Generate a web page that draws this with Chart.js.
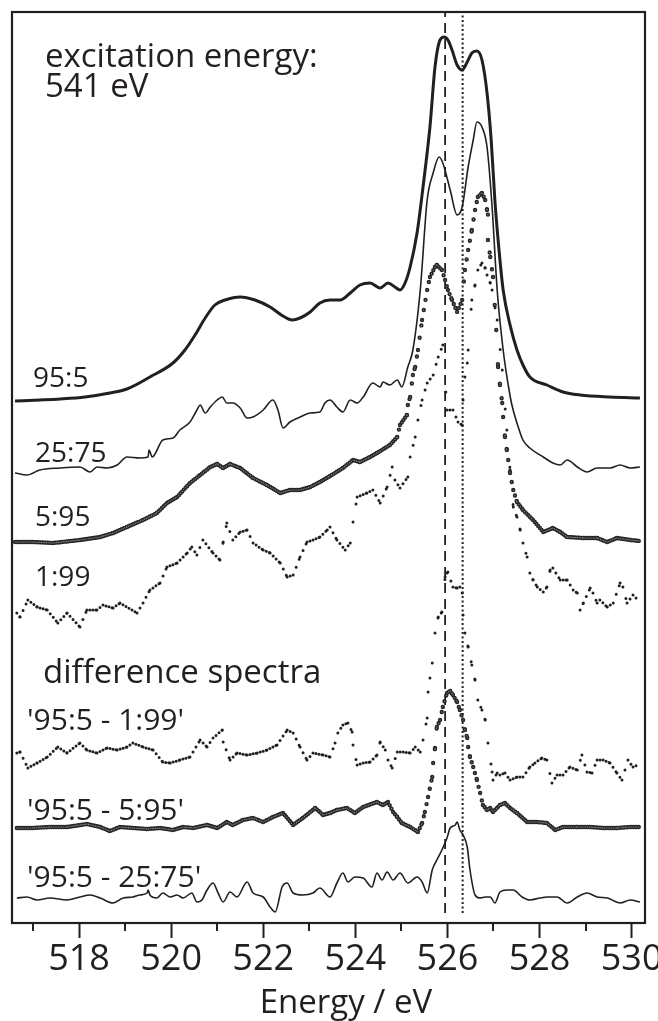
<!DOCTYPE html>
<html>
<head>
<meta charset="utf-8">
<script src="https://cdn.jsdelivr.net/npm/chart.js@4"></script>
<style>
  html, body { margin: 0; padding: 0; background: #fff; }
  #wrap { width: 658px; height: 1021px; position: relative; }
</style>
</head>
<body>
<div id="wrap"><canvas id="spectra"></canvas></div>
<script>
// O K-edge emission spectra, stacked with vertical offsets (arb. units)

// sample 95:5
const e955 = [516.61,517.15,517.59,518.13,518.67,519.04,519.54,520.04,520.30,520.52,
  520.74,520.95,521.17,521.50,521.82,522.15,522.43,522.63,522.80,523.02,
  523.23,523.45,523.67,523.89,524.10,524.32,524.54,524.71,524.86,524.97,
  525.08,525.19,525.34,525.47,525.62,525.73,525.84,525.93,526.01,526.10,
  526.21,526.32,526.43,526.53,526.64,526.75,526.86,526.95,527.03,527.12,
  527.21,527.36,527.51,527.64,527.79,528.16,528.51,528.88,529.53,530.18];
const y955 = [52.2,52.3,52.4,52.6,53.0,53.4,54.6,56.0,57.3,58.8,
  60.5,61.8,62.3,62.6,62.3,61.6,60.7,60.3,60.5,61.1,
  62.0,62.3,62.3,63.0,63.8,64.0,63.5,64.0,63.6,63.3,
  64.0,65.6,69.0,73.6,79.6,85.6,88.3,88.6,88.3,87.3,
  85.8,85.3,86.1,87.0,87.2,86.3,83.0,78.3,72.3,67.3,
  63.3,59.8,57.3,55.8,54.6,53.8,53.1,52.8,52.6,52.5];

// sample 25:75
const e2575 = [516.61,516.87,517.15,517.59,518.02,518.24,518.39,518.61,518.83,519.04,
  519.32,519.50,519.52,519.59,519.82,520.04,520.19,520.41,520.56,520.63,
  520.74,520.85,521.00,521.11,521.21,521.34,521.50,521.65,521.78,522.00,
  522.21,522.32,522.43,522.58,522.80,523.02,523.23,523.34,523.45,523.60,
  523.73,523.89,524.04,524.17,524.38,524.54,524.60,524.75,524.91,525.01,
  525.14,525.25,525.41,525.56,525.69,525.82,525.90,526.06,526.21,526.32,
  526.45,526.56,526.64,526.75,526.86,526.97,527.08,527.21,527.32,527.40,
  527.51,527.64,527.79,528.08,528.29,528.45,528.60,528.82,529.03,529.25,
  529.53,529.75,529.97,530.18];
const y2575 = [45.0,44.8,45.3,45.5,45.6,45.1,45.6,45.5,45.8,46.6,
  46.5,46.6,47.3,46.6,48.3,48.5,49.3,50.1,51.3,51.8,
  51.0,51.6,52.3,52.6,52.0,52.0,51.5,50.5,50.6,51.3,
  52.3,51.3,49.5,50.1,50.6,51.0,51.1,52.0,52.3,51.6,
  51.1,52.3,52.0,52.6,54.0,53.6,54.1,53.8,54.3,53.6,
  55.6,57.3,63.3,72.3,75.0,76.6,76.0,73.3,70.8,71.6,
  75.6,78.3,80.1,79.6,77.6,71.6,63.3,57.3,53.8,51.8,
  50.0,48.3,47.5,46.6,46.0,45.8,46.3,45.6,45.1,45.5,
  45.5,45.8,45.5,45.6];

// sample 5:95
const e595 = [516.61,517.00,517.44,518.02,518.46,518.74,519.04,519.39,519.69,519.91,
  520.13,520.41,520.63,520.85,521.00,521.13,521.28,521.50,521.78,522.08,
  522.37,522.58,522.80,523.02,523.23,523.45,523.73,523.95,524.10,524.32,
  524.47,524.75,524.91,524.97,525.12,525.14,525.19,525.25,525.30,525.36,
  525.45,525.56,525.62,525.73,525.77,525.88,525.95,526.01,526.10,526.21,
  526.32,526.38,526.45,526.53,526.60,526.66,526.75,526.82,526.86,526.88,
  526.93,526.99,527.06,527.10,527.14,527.19,527.21,527.25,527.29,527.32,
  527.36,527.43,527.51,527.64,527.86,528.08,528.29,528.45,528.60,528.95,
  529.25,529.47,529.68,529.97,530.18];
const y595 = [38.1,38.1,38.0,38.3,38.6,39.0,39.6,40.3,41.0,42.0,
  42.6,44.0,44.8,45.6,45.9,45.5,45.9,45.5,44.5,43.8,
  43.0,43.3,43.3,43.6,44.1,44.7,45.5,46.3,46.1,46.6,
  47.0,47.8,48.6,49.8,50.8,51.8,52.6,54.8,55.6,57.3,
  60.3,63.3,64.6,65.6,65.8,65.3,64.3,63.3,62.3,61.1,
  62.3,65.3,67.3,69.3,71.3,72.6,73.0,72.3,71.3,68.3,
  66.6,64.6,59.3,55.6,53.8,52.0,50.6,48.6,47.3,46.3,
  45.0,43.3,42.1,41.3,40.3,39.1,39.5,39.1,38.6,38.5,
  38.5,38.1,38.5,38.3,38.2];

// sample 1:99
const e199 = [516.65,516.72,516.89,517.09,517.31,517.54,517.74,518.02,518.17,518.39,
  518.52,518.74,518.89,519.26,519.39,519.54,519.76,519.91,520.13,520.35,
  520.45,520.56,520.69,520.91,521.06,521.13,521.21,521.34,521.50,521.65,
  521.78,522.00,522.15,522.37,522.52,522.65,522.80,522.95,523.08,523.23,
  523.39,523.45,523.60,523.78,523.89,523.95,524.04,524.25,524.38,524.54,
  524.69,524.80,524.86,524.97,525.14,525.19,525.30,525.36,525.45,525.56,
  525.69,525.80,525.90,525.99,526.12,526.23,526.32,526.34,526.38,526.43,
  526.45,526.53,526.60,526.66,526.75,526.82,526.86,526.93,526.97,527.08,
  527.19,527.29,527.36,527.43,527.51,527.58,527.64,527.73,527.79,527.86,
  527.95,528.08,528.16,528.23,528.29,528.45,528.60,528.73,528.82,528.88,
  528.95,529.10,529.16,529.25,529.31,529.47,529.60,529.75,529.81,529.90,
  530.03,530.14];
const y199 = [31.0,30.6,32.3,31.6,31.3,30.0,31.0,29.6,31.3,31.3,
  31.8,31.5,32.0,31.0,32.0,33.3,34.0,35.6,36.0,37.0,
  37.6,36.8,38.3,37.0,36.3,38.1,40.0,38.3,39.1,39.3,
  38.0,37.3,37.0,36.0,34.6,34.8,36.6,38.1,38.3,38.6,
  39.3,39.6,38.3,37.3,38.0,40.1,42.6,43.0,43.3,42.0,
  43.6,45.6,44.3,43.5,44.6,46.6,48.6,50.3,52.3,54.0,
  54.8,56.6,57.8,51.3,51.3,50.1,49.8,52.3,54.6,56.0,
  57.3,62.3,63.8,65.3,66.0,65.5,64.8,64.0,63.3,60.3,
  55.3,49.3,45.3,41.6,40.6,39.3,38.0,36.6,35.0,34.3,
  33.6,33.1,33.6,35.3,35.5,34.3,34.3,33.3,33.0,31.3,
  32.0,33.5,33.0,32.0,32.3,31.6,32.0,34.0,33.6,32.0,
  32.8,32.3];

// difference '95:5 - 1:99'
const eD199 = [516.65,516.72,516.89,517.09,517.31,517.54,517.74,518.02,518.17,518.39,
  518.61,518.83,519.04,519.17,519.39,519.61,519.82,519.98,520.19,520.41,
  520.63,520.78,520.91,521.11,521.13,521.28,521.43,521.65,521.87,522.08,
  522.30,522.52,522.65,522.80,522.95,523.08,523.30,523.45,523.56,523.62,
  523.73,523.84,523.93,523.95,524.04,524.17,524.32,524.47,524.54,524.65,
  524.71,524.80,524.91,525.04,525.19,525.30,525.41,525.47,525.56,525.58,
  525.62,525.67,525.73,525.80,525.88,525.95,525.99,526.01,526.12,526.21,
  526.27,526.32,526.34,526.38,526.45,526.53,526.60,526.66,526.75,526.82,
  526.88,526.97,526.99,527.08,527.14,527.25,527.36,527.51,527.64,527.79,
  527.90,528.05,528.16,528.27,528.38,528.51,528.66,528.82,528.92,529.03,
  529.14,529.25,529.38,529.53,529.68,529.79,529.92,530.03,530.14];
const yD199 = [17.0,17.1,15.5,16.0,16.6,17.6,17.0,18.0,17.3,17.0,
  17.5,17.3,17.6,18.0,17.6,17.3,16.1,16.0,16.3,16.6,
  18.3,17.6,18.5,19.3,18.1,16.3,17.0,16.8,17.0,17.3,
  17.8,19.3,19.0,17.6,16.3,17.0,16.8,16.6,18.0,19.0,
  19.8,20.0,19.1,17.8,15.8,16.0,16.1,16.8,18.1,17.3,
  16.3,15.5,17.1,17.1,17.0,17.6,17.1,18.3,20.5,23.1,
  24.5,26.0,29.0,30.6,31.1,34.6,35.0,35.1,33.6,33.5,
  33.6,33.0,30.8,29.0,27.6,25.8,24.3,22.3,21.3,20.3,
  18.0,15.1,14.3,15.0,14.8,15.0,14.3,14.6,14.6,15.6,
  16.0,16.5,16.3,14.0,14.8,14.8,15.6,15.3,16.8,15.1,
  15.0,16.3,16.3,16.0,15.0,14.3,16.3,15.6,15.8];

// difference '95:5 - 5:95'
const eD595 = [516.65,517.00,517.37,517.74,518.17,518.46,518.67,518.89,519.17,519.48,
  519.76,520.04,520.26,520.48,520.78,521.00,521.21,521.34,521.56,521.78,
  522.00,522.21,522.43,522.65,522.86,523.13,523.30,523.45,523.60,523.82,
  523.99,524.17,524.47,524.60,524.71,524.82,524.91,525.01,525.19,525.36,
  525.45,525.51,525.58,525.67,525.69,525.73,525.77,525.84,525.90,525.99,
  526.06,526.12,526.21,526.27,526.34,526.38,526.43,526.45,526.49,526.56,
  526.64,526.71,526.77,526.86,526.93,526.99,527.14,527.25,527.36,527.51,
  527.73,527.95,528.16,528.34,528.51,528.82,529.10,529.38,529.68,529.97,
  530.18];
const yD595 = [9.5,9.5,9.6,9.6,9.9,9.6,9.2,9.6,9.5,9.4,
  9.5,9.3,9.6,9.5,9.8,9.5,10.1,9.8,10.3,10.5,
  10.1,10.6,11.0,9.8,10.5,11.5,10.8,11.0,11.3,11.5,
  11.0,11.6,12.1,11.8,12.1,11.1,10.6,10.0,9.6,9.1,
  10.0,11.1,12.6,14.6,16.0,17.5,19.6,20.3,21.6,23.0,
  23.2,22.8,22.1,21.3,20.3,19.3,18.5,17.6,16.6,15.6,
  14.3,13.0,11.8,11.3,11.5,11.1,11.8,12.0,11.5,11.0,
  10.1,10.1,10.0,9.3,9.6,9.6,9.6,9.5,9.5,9.6,
  9.6];

// difference '95:5 - 25:75'
const eD2575 = [516.65,516.87,517.09,517.37,517.74,518.02,518.24,518.46,518.74,518.96,
  519.17,519.32,519.48,519.50,519.54,519.69,519.82,519.98,520.13,520.26,
  520.45,520.56,520.67,520.78,520.91,521.02,521.13,521.28,521.43,521.65,
  521.78,522.00,522.15,522.26,522.41,522.52,522.65,522.86,523.08,523.23,
  523.45,523.60,523.73,523.84,523.99,524.17,524.36,524.47,524.58,524.69,
  524.82,524.97,525.14,525.34,525.45,525.56,525.67,525.77,525.88,525.99,
  526.06,526.17,526.21,526.27,526.34,526.43,526.49,526.60,526.71,526.82,
  526.93,527.03,527.14,527.29,527.43,527.62,527.79,528.01,528.16,528.38,
  528.60,528.82,529.03,529.25,529.47,529.75,529.97,530.18];
const yD2575 = [2.5,2.6,2.3,2.5,2.3,2.6,2.8,2.5,2.0,2.5,
  2.6,2.8,3.0,3.3,2.8,2.5,3.0,2.6,2.8,2.5,
  3.0,2.1,2.3,3.3,4.0,3.0,2.1,3.1,2.6,4.1,
  3.0,2.6,1.6,1.1,3.6,4.0,3.0,2.8,3.0,3.5,
  2.6,4.0,5.0,4.1,4.6,4.5,3.6,5.0,4.3,5.1,
  4.3,5.0,4.0,4.6,4.1,3.0,5.3,6.3,7.3,8.5,
  9.5,9.8,10.1,9.3,8.8,7.6,5.3,2.8,2.5,2.6,
  2.6,2.0,3.1,3.3,3.3,2.6,2.3,2.5,2.6,2.6,
  2.0,2.6,3.0,2.6,2.5,2.0,2.3,2.1];

// reference energies (eV): main peak positions
const refDashed = 525.95;
const refDotted = 526.33;

const xRange = [516.545, 530.29];
const yRange = [0, 91.1];
const minorTicks = [517, 519, 521, 523, 525, 527, 529];

const INK = '#231f20';
const FONT = '"Open Sans", "Liberation Sans", sans-serif';

function series(label, xs, ys, extra) {
  return Object.assign({
    label,
    data: xs.map((x, i) => ({ x, y: ys[i] })),
    borderColor: INK,
    pointRadius: 0,
    fill: false,
    tension: 0
  }, extra);
}

// round dots along each segment, spaced so they land on an even energy pitch
function beads(step) {
  return {
    borderDash: ctx => {
      const dx = Math.abs(ctx.p1.x - ctx.p0.x);
      const len = Math.hypot(ctx.p1.x - ctx.p0.x, ctx.p1.y - ctx.p0.y);
      return [0, Math.min(step * len / Math.max(dx, 0.5), 80)];
    }
  };
}

function vline(x, dash, width) {
  return series('ref ' + x, [x, x], [1.0, yRange[1]], {
    borderDash: dash, borderWidth: width, borderColor: INK
  });
}

const solid = w => ({ borderWidth: w, cubicInterpolationMode: 'monotone' });
const dots = { borderWidth: 3, borderCapStyle: 'round', segment: beads(3) };
const ringCore = { borderWidth: 1.2, borderColor: '#9a9a9a', borderCapStyle: 'round', segment: beads(1.7) };
const ringEdge = { borderWidth: 4.4, borderColor: '#262626', borderCapStyle: 'round', segment: beads(1.7) };

const datasets = [
  series('95:5', e955, y955, solid(3)),
  series('25:75', e2575, y2575, solid(1.6)),
  series('5:95 core', e595, y595, ringCore),
  series('5:95', e595, y595, ringEdge),
  series('1:99', e199, y199, dots),
  series("'95:5 - 1:99'", eD199, yD199, dots),
  series("'95:5 - 5:95' core", eD595, yD595, ringCore),
  series("'95:5 - 5:95'", eD595, yD595, ringEdge),
  series("'95:5 - 25:75'", eD2575, yD2575, solid(1.6)),
  vline(refDashed, [10, 6], 1.8),
  vline(refDotted, [2, 2.5], 2)
];

// text placed inside the frame: [text, left, baseline, size]
const notes = [
  ['excitation energy:', 45, 67, 33],
  ['541 eV', 45, 97, 33],
  ['95:5', 33, 387, 28],
  ['25:75', 35, 462, 28],
  ['5:95', 35, 526, 28],
  ['1:99', 35, 586, 28],
  ['difference spectra', 43, 683, 33],
  ["'95:5 - 1:99'", 27, 730, 30],
  ["'95:5 - 5:95'", 27, 820, 30],
  ["'95:5 - 25:75'", 27, 887, 30]
];
const axisTitle = 'Energy / eV';

const decor = {
  id: 'decor',
  afterDraw(chart) {
    const { ctx, chartArea: a, scales: { x } } = chart;
    ctx.save();
    ctx.strokeStyle = INK;
    ctx.lineWidth = 2.2;
    ctx.strokeRect(a.left, a.top, a.right - a.left, a.bottom - a.top);
    ctx.lineWidth = 2;
    minorTicks.forEach(v => {
      const px = Math.round(x.getPixelForValue(v));
      ctx.beginPath();
      ctx.moveTo(px, a.bottom);
      ctx.lineTo(px, a.bottom + 8);
      ctx.stroke();
    });
    ctx.fillStyle = INK;
    ctx.textBaseline = 'alphabetic';
    notes.forEach(([t, lx, by, size]) => {
      ctx.font = size + 'px ' + FONT;
      ctx.fillText(t, lx, by);
    });
    // axis title, set a little right of the axis centre
    ctx.font = '33px ' + FONT;
    ctx.textAlign = 'center';
    ctx.fillText(axisTitle, 346, 1013);
    ctx.restore();
  }
};

new Chart(document.getElementById('spectra'), {
  type: 'line',
  data: { datasets },
  options: {
    responsive: true,
    maintainAspectRatio: false,
    animation: false,
    layout: { padding: { left: 12, right: 13, top: 12, bottom: 0 } },
    plugins: { legend: { display: false }, tooltip: { enabled: false } },
    scales: {
      x: {
        type: 'linear',
        min: xRange[0],
        max: xRange[1],
        ticks: {
          stepSize: 2,
          includeBounds: false,
          autoSkip: false,
          maxRotation: 0,
          color: INK,
          padding: 0,
          font: { family: FONT, size: 36 }
        },
        grid: { drawOnChartArea: false, tickLength: 15, tickWidth: 2, tickColor: INK },
        border: { display: false },
        title: { display: false },
        afterFit(scale) {
          scale.height = 98;
          scale.paddingLeft = 0;
          scale.paddingRight = 0;
        }
      },
      y: { display: false, min: yRange[0], max: yRange[1] }
    }
  },
  plugins: [decor]
});
</script>
</body>
</html>
